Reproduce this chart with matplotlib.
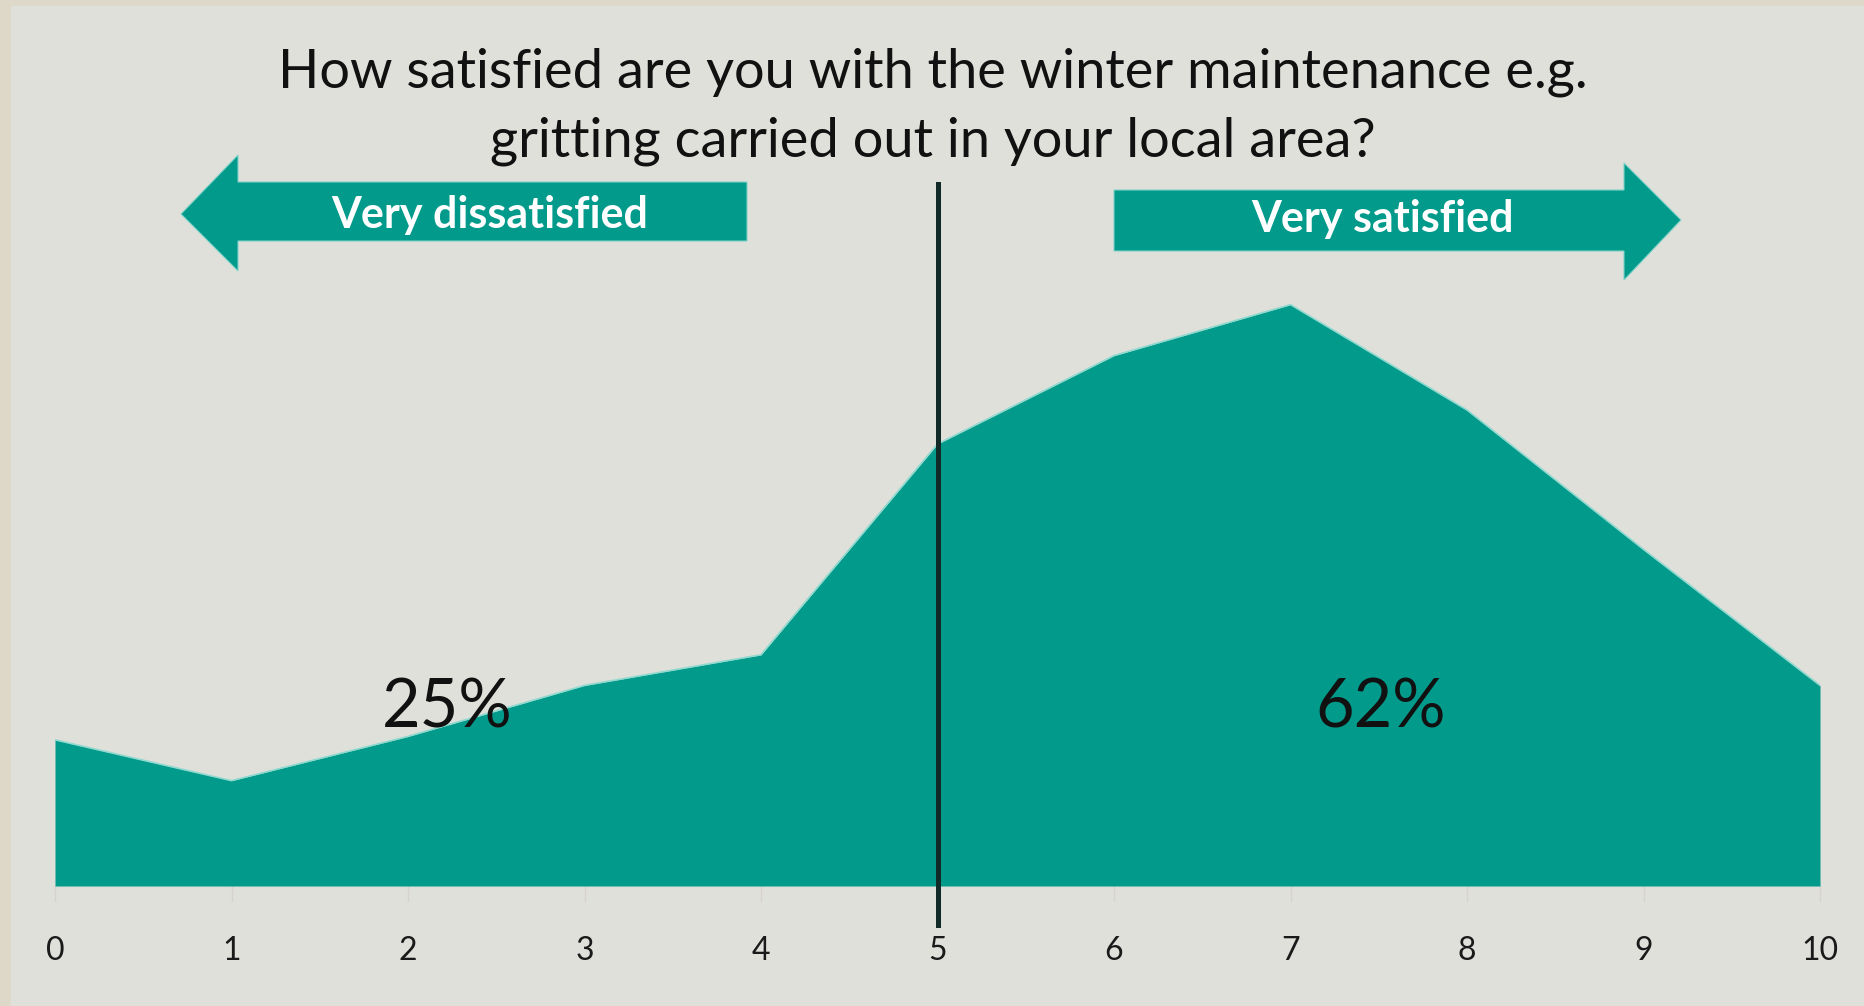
import matplotlib
matplotlib.use("Agg")
import matplotlib.pyplot as plt
from matplotlib.patches import Polygon, Rectangle

# Survey data: share of responses (%) per score 0-10
scores = [0, 1, 2, 3, 4, 5, 6, 7, 8, 9, 10]
share = [4.3, 3.1, 4.4, 5.9, 6.8, 13.0, 15.6, 17.1, 14.0, 9.9, 5.9]
tick_labels = [str(s) for s in scores]
title_lines = ["How satisfied are you with the winter maintenance e.g.",
               "gritting carried out in your local area?"]
dissatisfied_pct = "25%"
satisfied_pct = "62%"

teal = "#019a8b"
bg = "#e0e0db"
border = "#ddd8c8"
font = ["Lato", "DejaVu Sans"]

W, H = 1865, 1006
fig = plt.figure(figsize=(W / 100, H / 100), dpi=100, facecolor=border)
# inner slide panel
fig.patches.append(Rectangle((11 / W, 0), 1 - 11 / W, 1 - 6 / H,
                             transform=fig.transFigure, color=bg, zorder=-5))

ax = fig.add_axes([55 / W, 120 / H, 1765 / W, 880 / H])
ax.set_xlim(0, 10)
ax.set_ylim(0, 880 / 34.0)
ax.axis("off")

ax.fill_between(scores, share, 0, color=teal, lw=0, zorder=2)
ax.plot(scores, share, color="#8fd9cf", lw=1.2, zorder=2)

# faint tick marks below the baseline
for s in scores:
    ax.plot([s, s], [0, -0.45], color="#d6d3cd", lw=1, clip_on=False, zorder=1)

# tick labels
for s, lab in zip(scores, tick_labels):
    ax.text(s, -65 / 880, lab, transform=ax.get_xaxis_transform(),
            ha="center", va="center", fontsize=23, family=font, color="#1a1a1a")

# divider at midpoint
ax.axvline(5, ymin=-39 / 880, ymax=702 / 880, color="#122a27", lw=3.6,
           clip_on=False, zorder=4)

# title
fig.text(0.5, 1 - 72 / H, title_lines[0], ha="center", va="center",
         fontsize=39, family=font, color="#111111")
fig.text(0.5, 1 - 141 / H, title_lines[1], ha="center", va="center",
         fontsize=39, family=font, color="#111111")

# arrows (in pixel-based figure fraction)
def fx(px):
    return px / W

def fy(py):
    return 1 - py / H

left_arrow = [(181, 214), (238, 155), (238, 182), (747, 182), (747, 241),
              (238, 241), (238, 271)]
right_arrow = [(1681, 220), (1624, 163), (1624, 190), (1114, 190), (1114, 251),
               (1624, 251), (1624, 280)]
for pts in (left_arrow, right_arrow):
    poly = Polygon([(fx(x), fy(y)) for x, y in pts], closed=True,
                   transform=fig.transFigure, facecolor=teal,
                   edgecolor="#7fd3c8", lw=0.8, zorder=3)
    fig.patches.append(poly)

fig.text(fx(490), fy(215), "Very dissatisfied", ha="center", va="center",
         fontsize=31, fontweight="bold", family=font, color="white", zorder=5)
fig.text(fx(1382), fy(219), "Very satisfied", ha="center", va="center",
         fontsize=31, fontweight="bold", family=font, color="white", zorder=5)

# percentage labels
ax.text(2.22, (886 - 708) / 34.0, dissatisfied_pct, ha="center", va="center",
        fontsize=48, family=font, color="#111111", zorder=5)
ax.text(7.51, (886 - 708) / 34.0, satisfied_pct, ha="center", va="center",
        fontsize=48, family=font, color="#111111", zorder=5)

fig.savefig("out.png", dpi=100, facecolor=border)
